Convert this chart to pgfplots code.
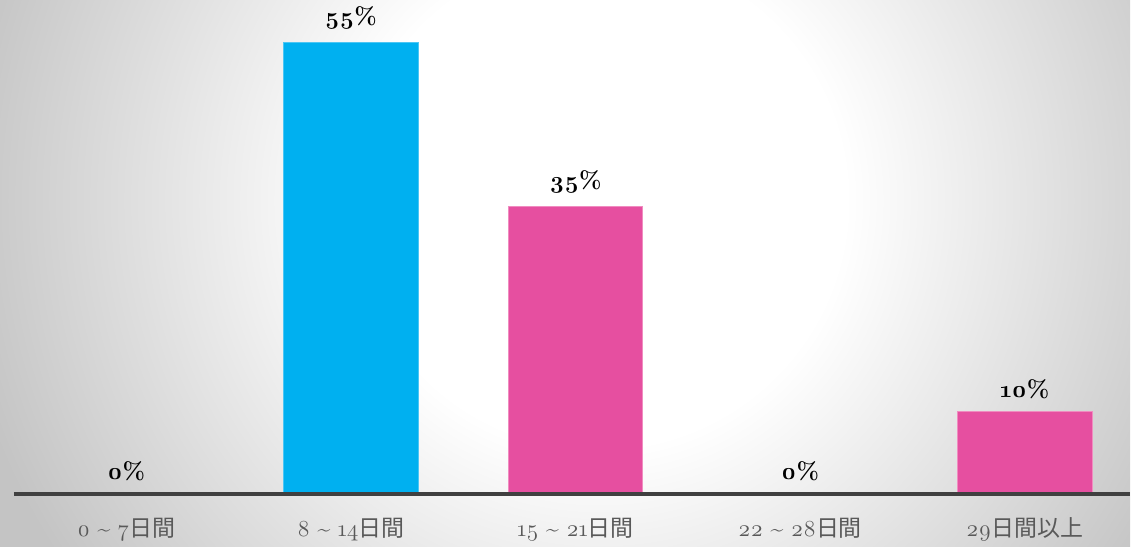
\documentclass[border=0pt]{standalone}
\usepackage{pgfplots}
\pgfplotsset{compat=1.18}
\usepackage{fontspec}
\setmainfont{Latin Modern Roman}[Numbers=OldStyle]
\newfontfamily\cjk{Noto Sans CJK JP}
\definecolor{bgout}{HTML}{C4C4C4}
\definecolor{cyanbar}{HTML}{00B0F0}
\definecolor{cyanedge}{HTML}{4CC6F4}
\definecolor{pinkbar}{HTML}{E64FA0}
\definecolor{pinkedge}{HTML}{F08CC0}
\definecolor{axisgray}{HTML}{404040}
\definecolor{labgray}{HTML}{595959}
\pgfdeclareradialshading{bgshade}{\pgfpoint{0bp}{0bp}}{color(0bp)=(white); color(9.5bp)=(white); color(25bp)=(bgout); color(50bp)=(bgout)}
\begin{document}
\begin{tikzpicture}
\begin{scope}
\clip (0,0) rectangle (566pt,273.5pt);
\fill[bgout] (0,0) rectangle (566pt,273.5pt);
\shade[shading=bgshade] (300pt,173.5pt) circle (325pt);
\end{scope}
\begin{axis}[
  at={(7pt,26.5pt)}, anchor=south west,
  scale only axis, width=559pt, height=245.7pt,
  xmin=-0.5, xmax=4.469, ymin=0, ymax=59.8,
  axis x line=bottom, axis y line=none,
  x axis line style={-, line width=2pt, draw=axisgray},
  xtick={0,1,2,3,4},
  xticklabels={{0 \textasciitilde{} 7{\cjk 日間}},{8 \textasciitilde{} 14{\cjk 日間}},{15 \textasciitilde{} 21{\cjk 日間}},{22 \textasciitilde{} 28{\cjk 日間}},{29{\cjk 日間以上}}},
  xticklabel style={anchor=base, yshift=-21.5pt, text=labgray, font=\fontsize{11.5}{14}\selectfont},
  major tick length=0pt,
  ytick=\empty,
  ybar, bar width=67.5pt, bar shift=0pt,
  /pgf/number format/assume math mode=true,
  nodes near coords={\pgfmathprintnumber{\pgfplotspointmeta}\%},
  nodes near coords style={font=\bfseries\fontsize{12}{14}\selectfont, text=black, yshift=3pt},
  clip=false, axis on top,
]
\addplot[draw=none, fill=none] coordinates {(0,0) (3,0)};
\addplot[fill=cyanbar, draw=cyanedge, line width=0.5pt] coordinates {(1,55)};
\addplot[fill=pinkbar, draw=pinkedge, line width=0.5pt] coordinates {(2,35) (4,10)};
\end{axis}
\end{tikzpicture}
\end{document}
